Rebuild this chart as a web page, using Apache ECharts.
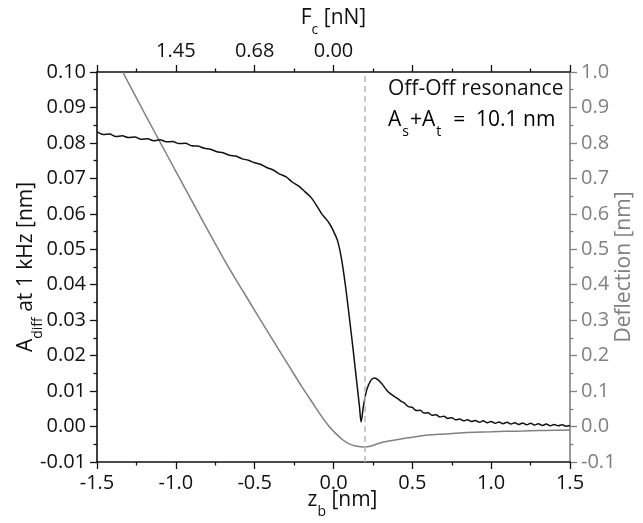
<!DOCTYPE html>
<html>
<head>
<meta charset="utf-8">
<script src="https://cdn.jsdelivr.net/npm/echarts@6/dist/echarts.min.js"></script>
<style>html,body{margin:0;padding:0;background:#fff;}#c{width:643px;height:523px;}</style>
</head>
<body>
<div id="c"></div>
<script>
// ---- data ----
const adiffX = [-1.50,-1.46,-1.42,-1.38,-1.34,-1.30,-1.26,-1.22,-1.18,-1.14,-1.10,-1.06,-1.02,-0.98,-0.94,-0.90,-0.86,-0.82,-0.78,-0.74,-0.70,-0.66,-0.62,-0.58,-0.54,-0.50,-0.46,-0.42,-0.38,-0.34,-0.30,-0.26,-0.22,-0.18,-0.14,-0.10,-0.075,-0.05,-0.025,0.00,0.025,0.05,0.075,0.10,0.125,0.15,0.165,0.175,0.19,0.21,0.235,0.26,0.285,0.31,0.335,0.36,0.385,0.41,0.43,0.450,0.475,0.500,0.525,0.550,0.575,0.600,0.625,0.650,0.675,0.700,0.725,0.750,0.775,0.800,0.825,0.850,0.875,0.900,0.925,0.950,0.975,1.000,1.025,1.050,1.075,1.100,1.125,1.150,1.175,1.200,1.225,1.250,1.275,1.300,1.325,1.350,1.375,1.400,1.425,1.450,1.475,1.500];
const adiffY = [0.0832,0.0824,0.0825,0.0818,0.0820,0.0815,0.0817,0.0810,0.0812,0.0806,0.0809,0.0803,0.0804,0.0798,0.0799,0.0792,0.0791,0.0785,0.0782,0.0775,0.0772,0.0765,0.0763,0.0755,0.0751,0.0744,0.0739,0.0730,0.0723,0.0712,0.0704,0.0689,0.0678,0.0662,0.0645,0.0618,0.0600,0.0587,0.0572,0.0551,0.0525,0.0475,0.0400,0.0310,0.0215,0.0115,0.0055,0.0013,0.0058,0.0102,0.0129,0.0137,0.0131,0.0119,0.0104,0.0093,0.0085,0.0078,0.0071,0.0066,0.0056,0.0054,0.0045,0.0046,0.0038,0.0039,0.0032,0.0033,0.0027,0.0029,0.0023,0.0025,0.0019,0.0021,0.0016,0.0019,0.0014,0.0017,0.0012,0.0016,0.0011,0.0014,0.0009,0.0013,0.0008,0.0012,0.0007,0.0011,0.0006,0.0010,0.0005,0.0009,0.0004,0.0008,0.0003,0.0007,0.0002,0.0006,0.0002,0.0005,0.0001,0.0003];

const deflX = [-1.337,-1.20,-1.10,-1.00,-0.90,-0.80,-0.70,-0.617,-0.533,-0.45,-0.36,-0.28,-0.20,-0.13,-0.07,-0.025,0.02,0.06,0.10,0.14,0.195,0.24,0.29,0.35,0.40,0.50,0.60,0.70,0.80,0.90,1.00,1.10,1.20,1.30,1.40,1.50];
const deflY = [1.000,0.885,0.802,0.720,0.638,0.556,0.476,0.413,0.352,0.291,0.226,0.169,0.112,0.065,0.025,-0.001,-0.022,-0.038,-0.049,-0.055,-0.058,-0.055,-0.047,-0.041,-0.037,-0.030,-0.024,-0.021,-0.018,-0.016,-0.0148,-0.0135,-0.0125,-0.0115,-0.0107,-0.0100];

const markerX = [0.195];
const topTickPos = [-1.0, -0.5, 0.0];
const topTickLabels = ['1.45', '0.68', '0.00'];

// ---- chart ----
const FONT = 'Open Sans';
const BLACK = '#111111';
const GREY = '#808080';
function richSet(color, size, sub, subPadX) {
  const px = subPadX || 0;
  return {
    m: { fontFamily: FONT, fontSize: size, color: color, lineHeight: 24, verticalAlign: 'top' },
    s: { fontFamily: FONT, fontSize: sub, color: color, lineHeight: 13, verticalAlign: 'top', padding: [15, px, 0, px] }
  };
}
const chart = echarts.init(document.getElementById('c'), null, { renderer: 'canvas' });
const pairs = (xs, ys) => xs.map((x, i) => [x, ys[i]]);

const axisCommon = (color) => ({
  nameMoveOverlap: false,
  axisLine: { show: true, onZero: false, lineStyle: { color: color, width: 1.6 } },
  axisTick: { show: true, inside: false, length: 7, lineStyle: { color: color, width: 1.3 } },
  minorTick: { show: true, splitNumber: 2, length: 3.5, lineStyle: { color: color, width: 1.3 } },
  splitLine: { show: false },
  minorSplitLine: { show: false }
});
const lbl = (color, fmt) => ({ fontFamily: FONT, fontSize: 20, color: color, margin: 11, formatter: fmt });

chart.setOption({
  animation: false,
  backgroundColor: '#ffffff',
  grid: { left: 97, right: 73, top: 72, bottom: 61, containLabel: false, outerBoundsMode: 'none' },
  xAxis: [
    Object.assign(axisCommon(BLACK), {
      type: 'value', position: 'bottom', min: -1.5, max: 1.5, interval: 0.5,
      name: '{m|z}{s|b}{m| [nm]}', nameLocation: 'middle', nameGap: 28,
      nameTextStyle: { rich: richSet(BLACK, 21, 14), padding: [0, 0, 0, 18] },
      axisLabel: lbl(BLACK, v => v.toFixed(1))
    }),
    Object.assign(axisCommon(BLACK), {
      type: 'value', position: 'top', min: -1.5, max: 1.5, interval: 0.5,
      name: '{m|F}{s|c}{m| [nN]}', nameLocation: 'middle', nameGap: 40,
      nameTextStyle: { rich: richSet(BLACK, 21, 14) },
      axisLabel: lbl(BLACK, v => { const i = topTickPos.findIndex(p => Math.abs(p - v) < 1e-6); return i >= 0 ? topTickLabels[i] : ''; })
    })
  ],
  yAxis: [
    Object.assign(axisCommon(BLACK), {
      type: 'value', position: 'left', min: -0.01, max: 0.10, interval: 0.01,
      name: '{m|A}{s|diff}{m| at 1 kHz [nm]}', nameLocation: 'middle', nameGap: 57, nameRotate: 90,
      nameTextStyle: { rich: richSet(BLACK, 21, 14) },
      axisLabel: lbl(BLACK, v => v.toFixed(2))
    }),
    Object.assign(axisCommon(GREY), {
      type: 'value', position: 'right', min: -0.1, max: 1.0, interval: 0.1,
      name: 'Deflection [nm]', nameLocation: 'middle', nameGap: 44, nameRotate: 90,
      nameTextStyle: { fontFamily: FONT, fontSize: 21, color: GREY },
      axisLabel: lbl(GREY, v => v.toFixed(1))
    })
  ],
  graphic: [
    { type: 'text', left: 388, top: 79, style: { text: 'Off-Off resonance', fontFamily: FONT, fontSize: 21, fill: BLACK } },
    { type: 'text', left: 388, top: 110, style: {
        text: '{m|A}{s|s}{m|+A}{s|t}{m|  =  10.1 nm}',
        rich: richSet(BLACK, 21, 14, 1) } }
  ],
  series: [
    {
      type: 'line', name: 'Deflection', xAxisIndex: 0, yAxisIndex: 1,
      data: pairs(deflX, deflY), showSymbol: false, symbol: 'none', smooth: 0.3,
      lineStyle: { color: GREY, width: 1.5 }, z: 2
    },
    {
      type: 'line', name: 'Adiff', xAxisIndex: 0, yAxisIndex: 0,
      data: pairs(adiffX, adiffY), showSymbol: false, symbol: 'none', smooth: 0.3,
      lineStyle: { color: BLACK, width: 1.5 }, z: 3,
      markLine: {
        silent: true, symbol: ['none', 'none'], label: { show: false },
        lineStyle: { color: '#b8b8b8', width: 1.5, type: [6, 4] },
        data: markerX.map(x => ({ xAxis: x }))
      }
    }
  ]
});
</script>
</body>
</html>
